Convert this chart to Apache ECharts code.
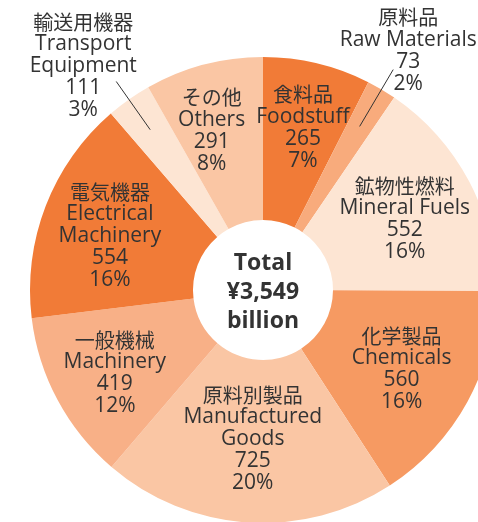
<!DOCTYPE html>
<html lang="en">
<head>
<meta charset="utf-8" />
<title></title>
<script src="https://cdn.jsdelivr.net/npm/echarts@6/dist/echarts.min.js"></script>
<style>
  html, body { margin: 0; padding: 0; background: #fff; }
  #main { width: 478px; height: 522px; }
</style>
</head>
<body>
<div id="main"></div>
<script>
// order: clockwise from 12 o'clock
var namesJp = ['食料品', '原料品', '鉱物性燃料', '化学製品', '原料別製品', '一般機械', '電気機器', '輸送用機器', 'その他'];
var namesEn = ['Foodstuff', 'Raw Materials', 'Mineral Fuels', 'Chemicals', 'Manufactured\nGoods', 'Machinery', 'Electrical\nMachinery', 'Transport\nEquipment', 'Others'];
var values = [265, 73, 552, 560, 725, 419, 554, 111, 291];
var percents = [7, 2, 16, 16, 20, 12, 16, 3, 8];
var colors = ['#f17b37', '#f8ab7c', '#fde5d3', '#f69a62', '#fac6a4', '#f8b087', '#f17b37', '#fde5d3', '#fac6a4'];
var totalLines = ['Total', '¥3,549', 'billion'];

var cx = 263, cy = 290, r0 = 70, r1 = 233;

// label nudges (px) from the library's default spot
var labelShift = [[4, -12], [0, 0], [5, 1], [3, 5], [0, -5], [-12, 10], [-9, 2], [0, 0], [-12, -10]];
// small slices labelled outside: leader from r=a to r=b, label centre offset from leader end
var outside = { 1: { a: 190, b: 256, dx: 15, dy: -19 }, 7: { a: 196, b: 255, dx: -33, dy: -15 } };

var total = values.reduce(function (s, v) { return s + v; }, 0);
function midAngle(i) {
  var cum = 0;
  for (var k = 0; k < i; k++) cum += values[k];
  return (cum + values[i] / 2) / total * Math.PI * 2;
}
function polar(ang, r) {
  return [cx + r * Math.sin(ang), cy - r * Math.cos(ang)];
}

var chartDom = document.getElementById('main');
var myChart = echarts.init(chartDom);

var data = values.map(function (v, i) {
  var item = { value: v, name: namesEn[i], itemStyle: { color: colors[i] } };
  if (outside[i]) item.label = { position: 'outside' };
  return item;
});

var leaders = Object.keys(outside).map(function (k) {
  var o = outside[k], ang = midAngle(+k);
  var p = polar(ang, o.a), q = polar(ang, o.b);
  return {
    type: 'line',
    shape: { x1: p[0], y1: p[1], x2: q[0], y2: q[1] },
    style: { stroke: '#333', lineWidth: 1 },
    z: 10
  };
});

var option = {
  animation: false,
  graphic: leaders.concat([{
    type: 'text',
    x: cx,
    y: cy + 2,
    style: {
      text: totalLines.join('\n'),
      align: 'center',
      verticalAlign: 'middle',
      fill: '#333',
      font: 'bold 23px "Open Sans", sans-serif',
      lineHeight: 29
    },
    z: 10
  }]),
  series: [{
    type: 'pie',
    center: [cx, cy],
    radius: [r0, r1],
    startAngle: 90,
    clockwise: true,
    avoidLabelOverlap: false,
    silent: true,
    itemStyle: { borderWidth: 0 },
    label: {
      show: true,
      position: 'inside',
      color: '#333',
      align: 'center',
      formatter: function (p) {
        var i = p.dataIndex;
        var lines = ['{jp|' + namesJp[i] + '}'];
        namesEn[i].split('\n').forEach(function (s) { lines.push('{en|' + s + '}'); });
        lines.push('{en|' + values[i] + '}');
        lines.push('{en|' + percents[i] + '%}');
        return lines.join('\n');
      },
      rich: {
        jp: { fontFamily: '"Noto Sans CJK JP", sans-serif', fontSize: 20, lineHeight: 22, color: '#333' },
        en: { fontFamily: '"Open Sans", sans-serif', fontSize: 21, lineHeight: 22, color: '#333' }
      }
    },
    labelLine: { show: false },
    labelLayout: function (params) {
      var i = params.dataIndex;
      if (outside[i]) {
        var o = outside[i];
        var q = polar(midAngle(i), o.b);
        return { x: q[0] + o.dx, y: q[1] + o.dy, align: 'center', verticalAlign: 'middle' };
      }
      var s = labelShift[i];
      return { dx: s[0], dy: s[1] };
    },
    data: data
  }]
};

myChart.setOption(option);
</script>
</body>
</html>
